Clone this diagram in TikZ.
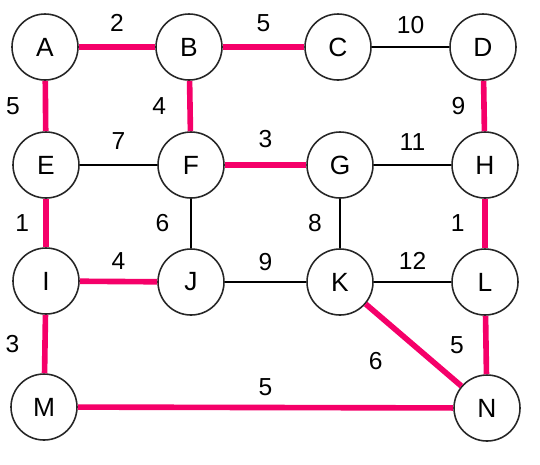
\documentclass[tikz,border=0pt]{standalone}
\usepackage{fontspec}
\setmainfont{Liberation Sans}
\usetikzlibrary{positioning}
\definecolor{pathpink}{RGB}{245,0,105}

\begin{document}
\begin{tikzpicture}[
  font=\fontsize{7.5}{9}\selectfont,
  vtx/.style={draw=black!85, circle, minimum size=0.66cm, inner sep=0pt, line width=0.45pt},
  edg/.style={draw=black, line width=0.3pt},
  sel/.style={draw=pathpink, line width=1.6pt},
  wt/.style={font=\fontsize{7}{8}\selectfont, inner sep=1pt},
]
\useasboundingbox (0,0) rectangle (5.4,-4.64);
% vertices
\node[vtx] (A) at (0.45,-0.47) {A};
\node[vtx] (B) at (1.89,-0.47) {B};
\node[vtx] (C) at (3.38,-0.47) {C};
\node[vtx] (D) at (4.83,-0.47) {D};
\node[vtx] (E) at (0.46,-1.65) {E};
\node[vtx] (F) at (1.91,-1.65) {F};
\node[vtx] (G) at (3.40,-1.65) {G};
\node[vtx] (H) at (4.85,-1.65) {H};
\node[vtx] (I) at (0.46,-2.81) {I};
\node[vtx] (J) at (1.91,-2.82) {J};
\node[vtx] (K) at (3.40,-2.82) {K};
\node[vtx] (L) at (4.85,-2.82) {L};
\node[vtx] (M) at (0.44,-4.07) {M};
\node[vtx] (N) at (4.87,-4.08) {N};
% plain edges
\draw[edg] (C) -- node[wt, above=2.5pt] {10} (D);
\draw[edg] (E) -- node[wt, above=3.2pt] {7} (F);
\draw[edg] (G) -- node[wt, above=3pt] {11} (H);
\draw[edg] (F) -- node[wt, left=5pt] {6} (J);
\draw[edg] (G) -- node[wt, left=4pt] {8} (K);
\draw[edg] (J) -- node[wt, above=2pt] {9} (K);
\draw[edg] (K) -- node[wt, above=2.5pt] {12} (L);
% selected edges
\draw[sel] (A) -- node[wt, above=2.5pt] {2} (B);
\draw[sel] (B) -- node[wt, above=2.5pt] {5} (C);
\draw[sel] (A) -- node[wt, left=5.5pt] {5} (E);
\draw[sel] (B) -- node[wt, left=5pt] {4} (F);
\draw[sel] (F) -- node[wt, above=3.2pt] {3} (G);
\draw[sel] (D) -- node[wt, left=3.5pt] {9} (H);
\draw[sel] (E) -- node[wt, left=3pt] {1} (I);
\draw[sel] (H) -- node[wt, left=4pt] {1} (L);
\draw[sel] (I) -- node[wt, above=1.5pt] {4} (J);
\draw[sel] (I) -- node[wt, left=5.5pt] {3} (M);
\draw[sel] (K) -- node[wt, below left=0.3pt and 7pt] {6} (N);
\draw[sel] (L) -- node[wt, left=4.5pt] {5} (N);
\draw[sel] (M) -- node[wt, above=1.5pt] {5} (N);
\end{tikzpicture}
\end{document}
